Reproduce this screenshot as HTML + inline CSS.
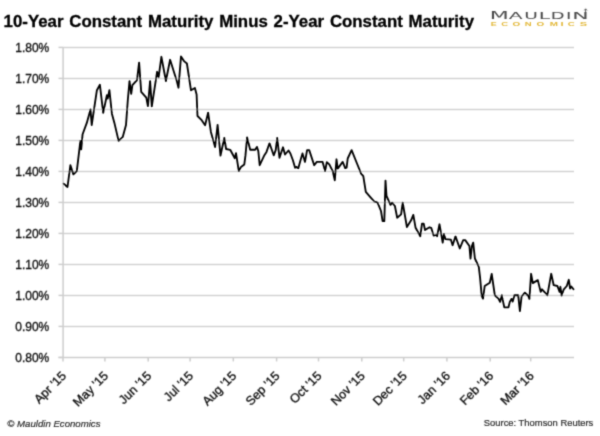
<!DOCTYPE html>
<html><head><meta charset="utf-8"><title>10-Year Constant Maturity Minus 2-Year Constant Maturity</title>
<style>
html,body{margin:0;padding:0;background:#fff;}
body{width:600px;height:436px;overflow:hidden;}
svg{display:block;font-family:"Liberation Sans",sans-serif;}
.grid line{stroke:#d3d3d3;stroke-width:1.5;}
.axis line{stroke:#cdcdcd;stroke-width:1.5;}.axis line.v{stroke:#cdcdcd;stroke-width:1.5;}
.yl text{font-size:12px;fill:#141414;stroke:#141414;stroke-width:0.35;}.xl text{font-size:12.5px;fill:#141414;stroke:#141414;stroke-width:0.35;}
</style></head><body>
<svg width="600" height="436" viewBox="0 0 600 436">
<defs><filter id="soft" x="0" y="0" width="600" height="436" filterUnits="userSpaceOnUse"><feConvolveMatrix order="3" kernelMatrix="0.0256 0.1088 0.0256 0.1088 0.4624 0.1088 0.0256 0.1088 0.0256" divisor="1" edgeMode="none" preserveAlpha="false"/></filter></defs>
<rect width="600" height="436" fill="#fff"/>
<g filter="url(#soft)">
<text x="3.6" y="26.6" font-size="16.4" font-weight="bold" fill="#000" stroke="#000" stroke-width="0.3" textLength="470.4" word-spacing="1.1" lengthAdjust="spacingAndGlyphs">10-Year Constant Maturity Minus 2-Year Constant Maturity</text>
<g class="grid"><line x1="63.5" x2="574" y1="47.4" y2="47.4"/><line x1="63.5" x2="574" y1="78.4" y2="78.4"/><line x1="63.5" x2="574" y1="109.4" y2="109.4"/><line x1="63.5" x2="574" y1="140.4" y2="140.4"/><line x1="63.5" x2="574" y1="171.4" y2="171.4"/><line x1="63.5" x2="574" y1="202.4" y2="202.4"/><line x1="63.5" x2="574" y1="233.4" y2="233.4"/><line x1="63.5" x2="574" y1="264.4" y2="264.4"/><line x1="63.5" x2="574" y1="295.4" y2="295.4"/><line x1="63.5" x2="574" y1="326.4" y2="326.4"/></g>
<g class="axis"><line x1="58.5" x2="63.5" y1="47.4" y2="47.4"/><line x1="58.5" x2="63.5" y1="78.4" y2="78.4"/><line x1="58.5" x2="63.5" y1="109.4" y2="109.4"/><line x1="58.5" x2="63.5" y1="140.4" y2="140.4"/><line x1="58.5" x2="63.5" y1="171.4" y2="171.4"/><line x1="58.5" x2="63.5" y1="202.4" y2="202.4"/><line x1="58.5" x2="63.5" y1="233.4" y2="233.4"/><line x1="58.5" x2="63.5" y1="264.4" y2="264.4"/><line x1="58.5" x2="63.5" y1="295.4" y2="295.4"/><line x1="58.5" x2="63.5" y1="326.4" y2="326.4"/><line x1="58.5" x2="63.5" y1="357.4" y2="357.4"/><line class="v" x1="63.1" x2="63.1" y1="47" y2="357.9"/><line x1="58.5" x2="574" y1="357.4" y2="357.4"/><line class="v" x1="63.0" x2="63.0" y1="357.4" y2="361.4"/><line class="v" x1="104.9" x2="104.9" y1="357.4" y2="361.4"/><line class="v" x1="148.2" x2="148.2" y1="357.4" y2="361.4"/><line class="v" x1="190.1" x2="190.1" y1="357.4" y2="361.4"/><line class="v" x1="233.3" x2="233.3" y1="357.4" y2="361.4"/><line class="v" x1="276.6" x2="276.6" y1="357.4" y2="361.4"/><line class="v" x1="318.5" x2="318.5" y1="357.4" y2="361.4"/><line class="v" x1="361.8" x2="361.8" y1="357.4" y2="361.4"/><line class="v" x1="403.7" x2="403.7" y1="357.4" y2="361.4"/><line class="v" x1="446.9" x2="446.9" y1="357.4" y2="361.4"/><line class="v" x1="490.2" x2="490.2" y1="357.4" y2="361.4"/><line class="v" x1="530.7" x2="530.7" y1="357.4" y2="361.4"/></g>
<g class="yl"><text x="49.3" y="51.7" text-anchor="end">1.80%</text><text x="49.3" y="82.7" text-anchor="end">1.70%</text><text x="49.3" y="113.7" text-anchor="end">1.60%</text><text x="49.3" y="144.7" text-anchor="end">1.50%</text><text x="49.3" y="175.7" text-anchor="end">1.40%</text><text x="49.3" y="206.7" text-anchor="end">1.30%</text><text x="49.3" y="237.7" text-anchor="end">1.20%</text><text x="49.3" y="268.7" text-anchor="end">1.10%</text><text x="49.3" y="299.7" text-anchor="end">1.00%</text><text x="49.3" y="330.7" text-anchor="end">0.90%</text><text x="49.3" y="361.7" text-anchor="end">0.80%</text></g>
<g class="xl"><text transform="translate(66.9,376.6) rotate(-45)" text-anchor="end">Apr '15</text><text transform="translate(108.8,376.6) rotate(-45)" text-anchor="end">May '15</text><text transform="translate(152.1,376.6) rotate(-45)" text-anchor="end">Jun '15</text><text transform="translate(194.0,376.6) rotate(-45)" text-anchor="end">Jul '15</text><text transform="translate(237.2,376.6) rotate(-45)" text-anchor="end">Aug '15</text><text transform="translate(280.5,376.6) rotate(-45)" text-anchor="end">Sep '15</text><text transform="translate(322.4,376.6) rotate(-45)" text-anchor="end">Oct '15</text><text transform="translate(365.7,376.6) rotate(-45)" text-anchor="end">Nov '15</text><text transform="translate(407.6,376.6) rotate(-45)" text-anchor="end">Dec '15</text><text transform="translate(450.8,376.6) rotate(-45)" text-anchor="end">Jan '16</text><text transform="translate(494.1,376.6) rotate(-45)" text-anchor="end">Feb '16</text><text transform="translate(534.6,376.6) rotate(-45)" text-anchor="end">Mar '16</text></g>
<polyline fill="none" stroke="#000" stroke-width="1.85" stroke-linejoin="round" stroke-linecap="round" points="63.7,183.7 67.5,187 70.4,165.2 73.4,174.4 76.8,171.1 80.4,140.9 81.2,149.3 82.6,134.2 86.8,122.9 90.5,109.5 91.7,125 96.9,90.2 99.9,84.8 103.2,112.8 106.9,95.2 107.7,98.6 109.4,90.2 111.9,113.7 114.4,122.9 118.6,140.9 122.8,136.8 126,125 127.8,100.3 129.5,81 131.2,93.9 132.4,85.2 137,80.2 139.1,62.6 141.2,91.9 146.3,97.7 147.9,106.1 150.1,81 151.8,106.4 157.1,71.8 158.6,77.3 161.4,56.8 165.9,81 170.1,59.8 176.8,81 178.5,87.7 181,56.4 184.3,61.4 186.9,63.5 191,90.3 194.9,88 196.6,94.5 197.5,116 201.7,120.2 205.1,125.2 208.1,112.6 210.9,131.9 215.1,147 217.6,124.9 220.5,155.6 224.3,138 226.1,149 230.2,149.8 234.8,158.2 236,153.2 238.8,171.1 241,166.9 244.3,164.4 245.5,155.2 247.1,137.4 250.2,149.7 255.2,149.7 256.9,146.9 258.3,151 259.7,165.2 264.4,155.2 266.5,151.9 269.5,143.3 273.7,155.3 275.7,150.1 277.2,138 279.5,157.8 283,147.3 285,154.5 288.5,150.5 290.4,153.5 292.9,160.2 295.1,167.7 296.3,166.9 298.3,168.2 300.3,161 302.5,153.5 305,161.9 307.1,150.1 309.2,150.1 314.2,165.2 316.8,161.9 322.6,161.9 325.1,171.1 326.8,162.2 329.3,164.4 332.7,171.1 334.8,180.3 336.5,159.3 337.7,168.6 342.7,161.9 345.2,168.2 346.6,167.7 347.7,158.5 351.6,150.1 357,163.5 361.1,173.6 363.3,176.1 365.8,191.9 370.1,196.8 374.3,201.5 377.6,202.7 381,211 382.6,221.1 384.3,221.1 385.5,180.6 386.5,196 390.5,204.8 392.2,202.7 394.9,206 397.2,217.7 401.1,214.4 402.7,202.7 406.9,227 411.1,220.3 413.3,214.9 415.6,227.8 420.3,236.2 422,223.6 423.7,223.6 425,230 429.5,227.3 431.2,227.8 433.6,235.6 436.4,234.8 437.1,236.2 439.5,224.3 442.7,242.7 443.9,234 445.5,239.2 450.9,239.7 452.6,245.2 455.5,236.4 459.8,248.5 463.2,240.1 465.2,240.1 469.4,246 470.5,258.6 471.9,246 473.2,242.6 474.9,258.5 478.8,266.8 480.1,277.8 481.7,296 483,298.6 484.7,286 489.8,282.7 491.7,274 494.8,295.2 498.5,298.6 500.1,301.9 501.8,295.2 502.6,299.4 504.3,307.3 508.5,307.3 509.8,301.9 511.5,298.9 512.7,301.6 514.4,295.2 518.2,295.2 519.9,311.1 521.6,296.5 524.9,292.7 528.3,296 529.4,298.9 531.1,273.8 532.8,283.1 537.8,280.1 540.7,291.9 542,289.3 547.4,295.2 551.2,273.8 553.7,285.2 557.4,286 559.6,291.9 560.4,286.8 561.6,295.5 563.8,289.3 566.8,286 568.8,279.8 570.1,288.5 571.3,286.5 573.5,289.3"/>
<text x="7.3" y="427.3" font-size="9.6" font-style="italic" fill="#2b2b2b" stroke="#2b2b2b" stroke-width="0.2" textLength="93.2" lengthAdjust="spacingAndGlyphs">© Mauldin Economics</text>
<text x="483.8" y="426.4" font-size="9.8" fill="#2b2b2b" stroke="#2b2b2b" stroke-width="0.2" textLength="109.5" lengthAdjust="spacingAndGlyphs">Source: Thomson Reuters</text>
<g id="logo" fill="#4a4a4a" font-family="'DejaVu Sans','Liberation Sans',sans-serif"><text transform="matrix(2.060 0 0 1 489.64 18.8)" font-size="10.7">M</text><text transform="matrix(2.314 0 0 1 508.84 18.8)" font-size="8.8">A</text><text transform="matrix(2.118 0 0 1 524.18 18.8)" font-size="8.8">U</text><text transform="matrix(2.304 0 0 1 538.81 18.8)" font-size="8.8">L</text><text transform="matrix(2.040 0 0 1 550.84 18.8)" font-size="8.8">D</text><text transform="matrix(2.072 0 0 1 566.11 18.8)" font-size="8.8">I</text><text transform="matrix(2.492 0 0 1 572.15 18.8)" font-size="8.8">N</text><path d="M585.6 12.6V9.2M584.3 10.4L585.6 8.8L587 10.4" stroke="#4a4a4a" stroke-width="0.9" fill="none"/></g>
<g id="logo2" fill="#e3b838" font-weight="bold"><text transform="matrix(1.650 0 0 1 490.80 25.6)" font-size="5.4">E</text><text transform="matrix(1.756 0 0 1 501.31 25.6)" font-size="5.4">C</text><text transform="matrix(1.839 0 0 1 512.59 25.6)" font-size="5.4">O</text><text transform="matrix(1.764 0 0 1 524.76 25.6)" font-size="5.4">N</text><text transform="matrix(1.839 0 0 1 536.49 25.6)" font-size="5.4">O</text><text transform="matrix(1.827 0 0 1 549.64 25.6)" font-size="5.4">M</text><text transform="matrix(2.058 0 0 1 560.56 25.6)" font-size="5.4">I</text><text transform="matrix(1.784 0 0 1 567.80 25.6)" font-size="5.4">C</text><text transform="matrix(2.040 0 0 1 579.68 25.6)" font-size="5.4">S</text></g>
</g>
</svg>
</body></html>
